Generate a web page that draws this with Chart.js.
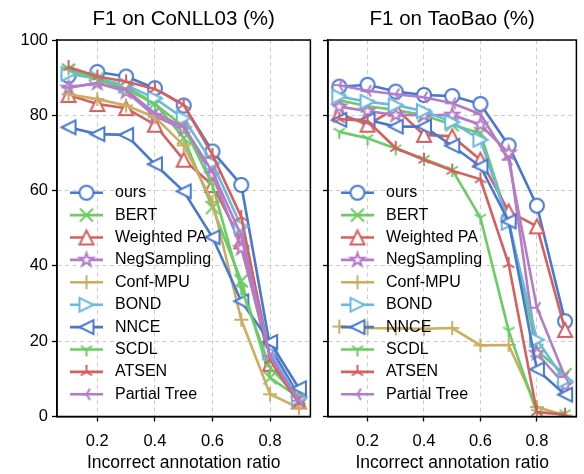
<!DOCTYPE html>
<html>
<head>
<meta charset="utf-8">
<script src="https://cdn.jsdelivr.net/npm/chart.js@4.4.0/dist/chart.umd.min.js"></script>
<style>
    html, body { margin: 0; padding: 0; background: #fff; overflow: hidden; }
    #wrap { position: relative; width: 584px; height: 474px; overflow: hidden; }
    #chart1 { position: absolute; left: 0; top: 0; }
    #chart2 { position: absolute; left: 316px; top: 0; }
</style>
</head>
<body>
<div id="wrap">
    <canvas id="chart1" width="320" height="474"></canvas>
    <canvas id="chart2" width="270" height="474"></canvas>
</div>
<script>
const ratios = [0.1, 0.2, 0.3, 0.4, 0.5, 0.6, 0.7, 0.8, 0.9]
const xTicks = [0.2, 0.4, 0.6, 0.8]
const yTicks = [0, 20, 40, 60, 80, 100]
const methods = ['ours', 'BERT', 'Weighted PA', 'NegSampling', 'Conf-MPU', 'BOND', 'NNCE', 'SCDL', 'ATSEN', 'Partial Tree']
const colors = ['#4878D0', '#6ACC64', '#D65F5F', '#B47CC7', '#CBAE62', '#6BB9E0', '#4878D0', '#6ACC64', '#D65F5F', '#B47CC7']
const markers = ['o', 'x', '^', '*', '+', '>', '<', '1', '2', '3']

// F1 on CoNLL03
const conllOurs = [90.5, 91.5, 90.3, 87.2, 82.6, 70.4, 61.5, 18.5, 5.5]
const conllBert = [92.0, 89.7, 87.5, 83.2, 74.0, 55.5, 36.0, 10.3, 5.0]
const conllWeightedPA = [85.4, 83.0, 81.9, 77.5, 68.2, 61.5, 46.5, 14.0, 4.0]
const conllNegSampling = [87.3, 88.6, 86.3, 79.8, 76.3, 64.2, 44.7, 15.5, 4.5]
const conllConfMPU = [85.6, 84.3, 82.6, 79.5, 72.0, 57.0, 25.7, 5.9, 2.3]
const conllBond = [91.0, 89.8, 88.0, 84.5, 79.2, 67.3, 50.5, 17.0, 4.8]
const conllNnce = [76.8, 75.0, 74.8, 67.0, 59.8, 47.6, 30.6, 19.8, 7.5]
const conllScdl = [92.5, 89.5, 87.0, 83.0, 77.0, 61.5, 34.0, 13.0, 5.0]
const conllAtsen = [92.8, 90.3, 89.0, 87.0, 82.8, 69.5, 53.0, 15.0, 3.5]
const conllPartialTree = [87.4, 88.5, 86.8, 80.5, 77.0, 65.0, 48.0, 16.0, 4.2]

// F1 on TaoBao
const taobaoOurs = [87.6, 88.1, 86.3, 85.4, 85.1, 83.0, 72.0, 56.0, 25.3]
const taobaoBert = [84.0, 82.4, 81.4, 80.0, 77.5, 75.2, 52.0, 17.5, 11.1]
const taobaoWeightedPA = [80.5, 77.5, 81.8, 74.8, 74.4, 68.2, 54.5, 50.5, 23.0]
const taobaoNegSampling = [82.3, 81.1, 80.1, 80.0, 80.1, 77.5, 70.0, 16.8, 8.3]
const taobaoConfMPU = [23.9, 23.5, 23.4, 23.3, 23.5, 18.9, 19.0, 2.5, 0.3]
const taobaoBond = [85.0, 83.6, 82.7, 81.1, 78.2, 73.5, 51.4, 20.4, 9.5]
const taobaoNnce = [78.8, 78.8, 77.0, 77.0, 71.9, 66.4, 51.8, 12.5, 5.8]
const taobaoScdl = [75.6, 73.9, 71.2, 68.4, 65.5, 52.8, 22.8, 1.0, 0.8]
const taobaoAtsen = [79.0, 78.5, 71.3, 68.2, 65.3, 63.0, 40.5, 1.2, 0.5]
const taobaoPartialTree = [88.0, 86.5, 85.6, 84.8, 83.2, 80.3, 68.2, 28.9, 10.5]

Chart.defaults.font.family = '"Liberation Sans", Arial, sans-serif'
Chart.defaults.color = '#000'


// matplotlib-like marker drawn on a small canvas, used as pointStyle
function markerCanvas(kind, color) {
    const c = document.createElement('canvas')
    c.width = c.height = 26
    const g = c.getContext('2d')
    const r = 7
    g.translate(13, 13)
    g.strokeStyle = color
    g.fillStyle = '#fff'
    g.lineWidth = 2
    g.beginPath()

    if (kind === 'o') {
        g.arc(0, 0, r, 0, Math.PI * 2)
        g.fill()
        g.stroke()
    } else if (kind === '^' || kind === '>' || kind === '<') {
        g.rotate({ '^': 0, '>': Math.PI / 2, '<': -Math.PI / 2 }[kind])
        g.moveTo(0, -r)
        g.lineTo(r, r)
        g.lineTo(-r, r)
        g.closePath()
        g.fill()
        g.stroke()
    } else if (kind === '*') {
        for (let k = 0; k < 10; k++) {
            const a = -Math.PI / 2 + k * Math.PI / 5
            const rr = k % 2 ? r * 0.382 : r
            g.lineTo(Math.cos(a) * rr, Math.sin(a) * rr)
        }
        g.closePath()
        g.fill()
        g.stroke()
    } else if (kind === 'x') {
        const d = 6.5
        g.moveTo(-d, -d); g.lineTo(d, d)
        g.moveTo(-d, d); g.lineTo(d, -d)
        g.stroke()
    } else if (kind === '+') {
        g.moveTo(-r, 0); g.lineTo(r, 0)
        g.moveTo(0, -r); g.lineTo(0, r)
        g.stroke()
    } else {
        // tri markers: 1 = down, 2 = up, 3 = left
        const arms = {
            '1': [[0, 1], [0.8, -0.5], [-0.8, -0.5]],
            '2': [[0, -1], [0.8, 0.5], [-0.8, 0.5]],
            '3': [[-1, 0], [0.5, 0.8], [0.5, -0.8]]
        }[kind]
        arms.forEach(([ax, ay]) => {
            g.moveTo(0, 0)
            g.lineTo(ax * r, ay * r)
        })
        g.stroke()
    }
    return c
}


const frameAndLegend = {
    id: 'frameAndLegend',
    afterDatasetsDraw(chart) {
        const { ctx, chartArea } = chart
        const datasets = chart.data.datasets
        const step = 22.4

        ctx.save()
        ctx.strokeStyle = '#000'
        ctx.lineWidth = 1.5
        ctx.strokeRect(chartArea.left, chartArea.top, chartArea.right - chartArea.left, chartArea.bottom - chartArea.top)

        ctx.font = '16px "Liberation Sans", Arial, sans-serif'
        ctx.textBaseline = 'middle'
        ctx.fillStyle = '#000'
        datasets.forEach((ds, i) => {
            const y = chartArea.bottom - 22.2 - (datasets.length - 1 - i) * step
            const x0 = chartArea.left + 13
            ctx.strokeStyle = ds.borderColor
            ctx.lineWidth = ds.borderWidth
            ctx.beginPath()
            ctx.moveTo(x0, y)
            ctx.lineTo(x0 + 33, y)
            ctx.stroke()
            Chart.helpers.drawPoint(ctx, { pointStyle: ds.pointStyle, radius: 7, rotation: 0, borderWidth: 0 }, x0 + 16.5, y)
            ctx.fillText(ds.label, chartArea.left + 58, y)
        })
        ctx.restore()
    }
}


function makeDatasets(series) {
    return methods.map((name, i) => ({
        label: name,
        data: ratios.map((x, j) => ({ x, y: series[i][j] })),
        borderColor: colors[i],
        borderWidth: 2.6,
        pointStyle: markerCanvas(markers[i], colors[i]),
        pointRadius: 7,
        pointHoverRadius: 7,
        fill: false,
        tension: 0,
        order: methods.length - i
    }))
}


function printPanel(id, title, series, yAxisWidth, showYLabels, rightPad) {

    const grid = {
        color: '#cccccc',
        lineWidth: 1,
        tickColor: '#000',
        tickLength: 5,
        tickWidth: 1.3
    }
    const border = { color: '#000', width: 1.5, dash: [4, 3.5] }

    const options = {
        responsive: false,
        animation: false,
        events: [],
        layout: { padding: { left: 0, right: rightPad, top: 0, bottom: 0 } },
        plugins: {
            legend: { display: false },
            tooltip: { enabled: false },
            title: {
                display: true,
                text: title,
                fullSize: false,
                font: { size: 20.5, weight: 'normal' },
                padding: { top: 7.5, bottom: 7.9 }
            }
        },
        scales: {
            x: {
                type: 'linear',
                min: 0.06,
                max: 0.94,
                afterBuildTicks: scale => { scale.ticks = xTicks.map(value => ({ value })) },
                afterFit: scale => { scale.height = 57.5 },
                ticks: { font: { size: 16.5 }, padding: 10.5, maxRotation: 0 },
                grid,
                border,
                title: {
                    display: true,
                    text: 'Incorrect annotation ratio',
                    font: { size: 17.5 },
                    padding: { top: 0, bottom: 0 }
                }
            },
            y: {
                min: 0,
                max: 100,
                afterBuildTicks: scale => { scale.ticks = yTicks.map(value => ({ value })) },
                afterFit: scale => { scale.width = yAxisWidth },
                ticks: { display: showYLabels, font: { size: 16.5 }, padding: 4 },
                grid,
                border
            }
        }
    }

    new Chart(id, { type: 'line', data: { datasets: makeDatasets(series) }, options, plugins: [frameAndLegend] })
}


printPanel('chart1', 'F1 on CoNLL03 (%)',
    [conllOurs, conllBert, conllWeightedPA, conllNegSampling, conllConfMPU, conllBond, conllNnce, conllScdl, conllAtsen, conllPartialTree],
    57, true, 7)

printPanel('chart2', 'F1 on TaoBao (%)',
    [taobaoOurs, taobaoBert, taobaoWeightedPA, taobaoNegSampling, taobaoConfMPU, taobaoBond, taobaoNnce, taobaoScdl, taobaoAtsen, taobaoPartialTree],
    12, false, 0)
</script>
</body>
</html>
